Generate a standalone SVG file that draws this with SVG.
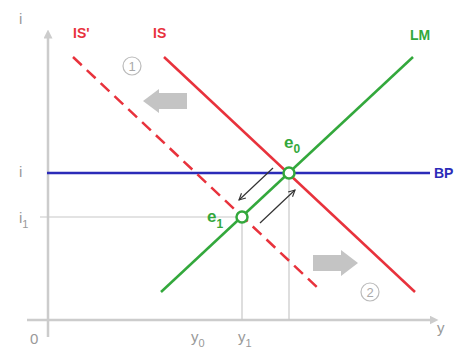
<svg xmlns="http://www.w3.org/2000/svg" width="469" height="352" viewBox="0 0 469 352">
<defs>
<style>
.ax{stroke:#cccccc;stroke-width:2.5;fill:none}
.guide{stroke:#c8c8c8;stroke-width:1.2;fill:none}
.red{stroke:#e8323c;stroke-width:2.5;fill:none}
.dash{stroke-dasharray:12,7}
.green{stroke:#33a83c;stroke-width:2.5;fill:none}
.blue{stroke:#2b2bb8;stroke-width:2.5;fill:none}
.lbl{font-family:"Liberation Sans",Arial,sans-serif;font-weight:bold;font-size:14px}
.pl{font-family:"Liberation Sans",Arial,sans-serif;font-weight:bold;font-size:17px}
.axl{font-family:"Liberation Sans",Arial,sans-serif;font-size:15px;fill:#999999}
.sub{font-size:11px}
.psub{font-size:12px}
.blk{stroke:#333333;stroke-width:1.2;fill:none}
.pt{fill:#ffffff;stroke:#33a83c;stroke-width:2.5}
.num{fill:#ffffff;stroke:#bbbbbb;stroke-width:1.2}
.numt{font-family:"Liberation Sans",Arial,sans-serif;font-size:13px;fill:#aaaaaa;text-anchor:middle}
</style>
<marker id="ah" viewBox="0 0 10 10" refX="9" refY="5" markerWidth="8" markerHeight="8" orient="auto" markerUnits="userSpaceOnUse">
<path d="M1,1 L9,5 L1,9" fill="none" stroke="#333333" stroke-width="1.4"/>
</marker>
<marker id="axh" viewBox="0 0 10 10" refX="5" refY="5" markerWidth="9" markerHeight="9" orient="auto" markerUnits="userSpaceOnUse">
<path d="M0,0 L10,5 L0,10 Z" fill="#cccccc"/>
</marker>
</defs>
<rect width="469" height="352" fill="#ffffff"/>
<g id="axes">
<line class="ax" x1="48" y1="337" x2="48" y2="34" marker-end="url(#axh)"/>
<line class="ax" x1="27" y1="320" x2="434" y2="320" marker-end="url(#axh)"/>
<text class="axl" x="19" y="24">i</text>
<text class="axl" x="30" y="344">0</text>
<text class="axl" x="437" y="333">y</text>
</g>
<g id="guides">
<line class="guide" x1="40" y1="217" x2="242" y2="217"/>
<line class="guide" x1="242" y1="217" x2="242" y2="320"/>
<line class="guide" x1="289" y1="173" x2="289" y2="320"/>
<text class="axl" x="19" y="177">i</text>
<text class="axl" x="19" y="223">i<tspan class="sub" dy="5">1</tspan></text>
<text class="axl" x="191" y="342">y<tspan class="sub" dy="5">0</tspan></text>
<text class="axl" x="238" y="342">y<tspan class="sub" dy="5">1</tspan></text>
</g>
<g id="connectors">
<line id="BP" class="blue" x1="47" y1="173" x2="430" y2="173"/>
<line id="IS-prime" class="red dash" x1="73" y1="57" x2="319" y2="289"/>
<line id="IS" class="red" x1="164" y1="57" x2="415" y2="292"/>
<line id="LM" class="green" x1="161" y1="292" x2="413" y2="57"/>
<line class="blk" x1="273" y1="168" x2="239" y2="200" marker-end="url(#ah)"/>
<line class="blk" x1="260" y1="223" x2="295" y2="190" marker-end="url(#ah)"/>
</g>
<g id="shift-left">
<path d="M187,93 L159,93 L159,89 L143,101 L159,113 L159,109 L187,109 Z" fill="#c4c4c4"/>
</g>
<g id="shift-right">
<path d="M313,255 L341,255 L341,250 L358,263 L341,276 L341,271 L313,271 Z" fill="#c4c4c4"/>
</g>
<g id="step1">
<circle class="num" cx="132" cy="66" r="9"/>
<text class="numt" x="132" y="71">1</text>
</g>
<g id="step2">
<circle class="num" cx="370" cy="292" r="9"/>
<text class="numt" x="370" y="297">2</text>
</g>
<g id="e0">
<circle class="pt" cx="289" cy="173" r="5.5"/>
<text class="pl" fill="#33a83c" x="284" y="148">e<tspan class="psub" dy="5">0</tspan></text>
</g>
<g id="e1">
<circle class="pt" cx="242" cy="217" r="5.5"/>
<text class="pl" fill="#33a83c" x="207" y="222">e<tspan class="psub" dy="6">1</tspan></text>
</g>
<g id="labels">
<text class="lbl" fill="#e8323c" x="73" y="38">IS'</text>
<text class="lbl" fill="#e8323c" x="153" y="38">IS</text>
<text class="lbl" fill="#33a83c" x="410" y="40">LM</text>
<text class="lbl" fill="#2b2bb8" x="434" y="178">BP</text>
</g>
</svg>
